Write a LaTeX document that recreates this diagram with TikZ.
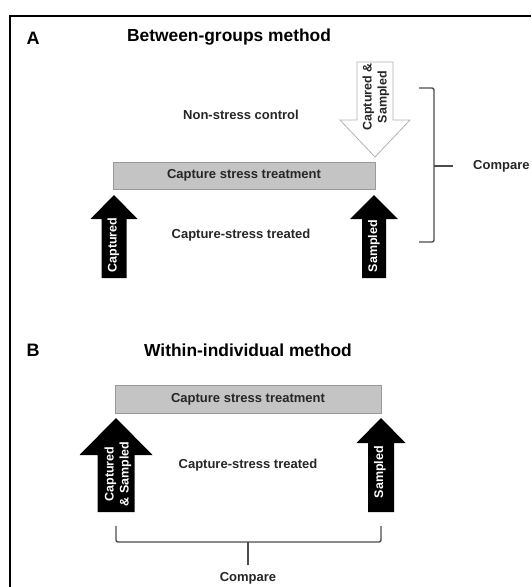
\documentclass[tikz,border=0pt]{standalone}
\usepackage{fontspec}
\setmainfont{Liberation Sans}
\usetikzlibrary{positioning}
\usetikzlibrary{calc}
\tikzstyle{panelletter}=[font=\bfseries\fontsize{18}{20}\selectfont, inner sep=0pt]
\tikzstyle{heading}=[font=\bfseries\fontsize{17.4}{20}\selectfont, inner sep=0pt]
\tikzstyle{plaintext}=[font=\bfseries\fontsize{13}{15}\selectfont, text=black!85, inner sep=0pt]
\tikzstyle{treatbar}=[draw=black!40, fill=black!23, line width=1pt, inner sep=0pt, font=\bfseries\fontsize{13}{15}\selectfont, text=black!85]
\tikzstyle{uparrow}=[fill=black]
\tikzstyle{downarrow}=[draw=black!30, fill=white, line width=0.8pt, line join=miter]
\tikzstyle{arrowtext}=[font=\bfseries\fontsize{12.5}{15}\selectfont, rotate=90, align=center, inner sep=0pt]
\tikzstyle{bracket}=[draw=black!70, line width=1.4pt, rounded corners=2pt]

\begin{document}
\begin{tikzpicture}[x=1pt, y=-1pt]
    \useasboundingbox (0,0) rectangle (531,587);

    % Frame round the figure
    \draw[line width=1.6pt] (531,16) -- (10,16) -- (10,587);

    % Panel A: between-groups
    \node[panelletter] (A) at (33,38) {A};
    \node[heading] (titleA) at (229,37) {Between-groups method};
    \node[treatbar, minimum width=262pt, minimum height=27pt] (barA) at (244,175.5) {Capture stress treatment};
    \node[plaintext] (controlA) at (241,115) {Non-stress control};
    \node[plaintext] (treatedA) at (241,235) {Capture-stress treated};

    % Panel B: within-individual
    \node[panelletter] (B) at (33,350) {B};
    \node[heading] (titleB) at (248,350) {Within-individual method};
    \node[treatbar, minimum width=266pt, minimum height=28pt] (barB) at (248,399) {Capture stress treatment};
    \node[plaintext] (treatedB) at (248,465) {Capture-stress treated};

    % Black arrows: tip x/tip y/head half width/shaft half width/head base/bottom
    \foreach \tx/\ty/\hw/\sw/\hb/\by in {114/195/23.5/12.5/219/278, 374/195/24/12/219/278, 116/418/36.5/18.5/455/512, 381/418/24.5/13/443/512}
        \fill[uparrow] (\tx,\ty) -- (\tx+\hw,\hb) -- (\tx+\sw,\hb) -- (\tx+\sw,\by) -- (\tx-\sw,\by) -- (\tx-\sw,\hb) -- (\tx-\hw,\hb) -- cycle;

    % White arrow of the control group
    \draw[downarrow] (357,62) -- (393,62) -- (393,120) -- (410,120) -- (375,157) -- (340,120) -- (357,120) -- cycle;

    % Texts in the arrows
    \foreach \pos/\name/\label in {{(113.5,245)/capA/Captured}, {(374,246)/sampA/Sampled}, {(118,474)/capB/Captured\\\& Sampled}, {(380,472)/sampB/Sampled}}
        \node[arrowtext, text=white] (\name) at \pos {\label};
    \node[arrowtext, text=black!85] (capsampA) at (376,97) {Captured \&\\Sampled};

    % Brackets
    \coordinate (brAtop) at (419,88);
    \coordinate (brAbot) at (419,242);
    \coordinate (brAmid) at (434,166);
    \coordinate (brAend) at (453,166);
    \draw[bracket] (brAtop) -- (brAtop -| brAmid) -- (brAbot -| brAmid) -- (brAbot);
    \draw[bracket] (brAmid) -- (brAend);
    \node[plaintext, anchor=west] (compareA) at (473,166) {Compare};

    \coordinate (brBleft) at (116,526);
    \coordinate (brBright) at (381,526);
    \coordinate (brBmid) at (248,542);
    \coordinate (brBend) at (248,565);
    \draw[bracket] (brBleft) -- (brBleft |- brBmid) -- (brBright |- brBmid) -- (brBright);
    \draw[bracket] (brBmid) -- (brBend);
    \node[plaintext] (compareB) at (248,578) {Compare};

\end{tikzpicture}
\end{document}
